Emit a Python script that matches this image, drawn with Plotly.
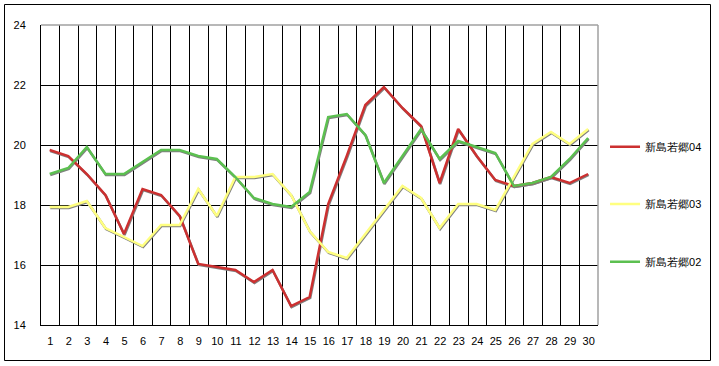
import plotly.graph_objects as go

days = [str(i) for i in range(1, 31)]
series_names = ["新島若郷04", "新島若郷03", "新島若郷02"]
v04 = [19.8, 19.6, 19.0, 18.3, 17.0, 18.5, 18.3, 17.6, 16.0, 15.9,
       15.8, 15.4, 15.8, 14.6, 14.9, 18.0, 19.6, 21.3, 21.9, 21.2,
       20.6, 18.7, 20.5, 19.6, 18.8, 18.6, 18.7, 18.9, 18.7, 19.0]
v03 = [17.9, 17.9, 18.1, 17.2, 16.9, 16.6, 17.3, 17.3, 18.5, 17.6,
       18.9, 18.9, 19.0, 18.3, 17.1, 16.4, 16.2, 17.0, 17.8, 18.6,
       18.2, 17.2, 18.0, 18.0, 17.8, 18.9, 20.0, 20.4, 20.0, 20.5]
v02 = [19.0, 19.2, 19.9, 19.0, 19.0, 19.4, 19.8, 19.8, 19.6, 19.5,
       18.9, 18.2, 18.0, 17.9, 18.4, 20.9, 21.0, 20.3, 18.7, 19.6,
       20.5, 19.5, 20.1, 19.9, 19.7, 18.6, 18.7, 18.9, 19.5, 20.2]
y_ticks = [14, 16, 18, 20, 22, 24]

colors = ["#cc3030", "#ffff80", "#5cc050"]
values = [v04, v03, v02]
legends = ["legend", "legend2", "legend3"]

# plot geometry (pixels)
W, H = 719, 366
L, R, T, B = 41, 121, 25, 41
pw, ph = W - L - R, H - T - B
ymin, ymax = 14, 24
px_y = (ymax - ymin) / ph          # data units per pixel (y)
px_x = 30 / pw                      # categories per pixel (x)

fig = go.Figure()

# shadows on base axes
for vals in values:
    fig.add_trace(go.Scatter(x=days, y=vals, mode="lines",
                             line=dict(color="#808080", width=2.5),
                             showlegend=False, hoverinfo="skip"))
# main lines on overlay axes shifted 1px up / left
for name, vals, col, lg in zip(series_names, values, colors, legends):
    fig.add_trace(go.Scatter(x=days, y=vals, mode="lines", name=name,
                             line=dict(color=col, width=2.5),
                             xaxis="x2", yaxis="y2", legend=lg))

font = dict(family="Liberation Sans, Arial, sans-serif", size=11, color="black")
cat_range = [-0.5, 29.5]

fig.update_layout(
    width=W, height=H,
    margin=dict(l=L, r=R, t=T, b=B, autoexpand=False),
    paper_bgcolor="white", plot_bgcolor="white",
    font=font,
    xaxis=dict(type="category", categoryorder="array", categoryarray=days,
               range=cat_range, tickson="boundaries", showgrid=True,
               gridcolor="black", gridwidth=1, showline=True, linecolor="black",
               linewidth=1, ticks="", ticklabelstandoff=6, tickangle=0,
               tickfont=font, zeroline=False),
    yaxis=dict(range=[ymin, ymax], tickvals=y_ticks, showgrid=True,
               gridcolor="black", gridwidth=1, showline=True, linecolor="black",
               linewidth=1, ticks="", ticklabelstandoff=12, tickfont=font,
               zeroline=False),
    xaxis2=dict(type="category", categoryorder="array", categoryarray=days,
                range=[cat_range[0] + 0.6 * px_x, cat_range[1] + 0.6 * px_x],
                overlaying="x", visible=False),
    yaxis2=dict(range=[ymin - 1.0 * px_y, ymax - 1.0 * px_y],
                overlaying="y", visible=False),
    legend=dict(x=1.0126, y=(325 - 146.7) / ph, xanchor="left",
                yanchor="middle", font=font, bgcolor="rgba(0,0,0,0)"),
    legend2=dict(x=1.0126, y=(325 - 204) / ph, xanchor="left", yanchor="middle",
                 font=font, bgcolor="rgba(0,0,0,0)"),
    legend3=dict(x=1.0126, y=(325 - 261.7) / ph, xanchor="left", yanchor="middle",
                 font=font, bgcolor="rgba(0,0,0,0)"),
    shapes=[
        dict(type="rect", xref="paper", yref="paper",
             x0=(4.5 - L) / pw, x1=(710.5 - L) / pw,
             y0=(T + ph - 360.5) / ph, y1=(T + ph - 4.5) / ph,
             line=dict(color="black", width=1), fillcolor="rgba(0,0,0,0)"),
        dict(type="line", xref="paper", yref="paper", x0=0, x1=1, y0=1, y1=1,
             line=dict(color="#a0a0a0", width=1.5), layer="above"),
        dict(type="line", xref="paper", yref="paper", x0=1, x1=1, y0=0, y1=1,
             line=dict(color="#a0a0a0", width=1.5), layer="above"),
    ],
)

fig.write_html("out.html",
               config={"displayModeBar": False},
               post_script="document.body.style.margin='0px';"
                           "document.body.style.overflow='hidden';")
